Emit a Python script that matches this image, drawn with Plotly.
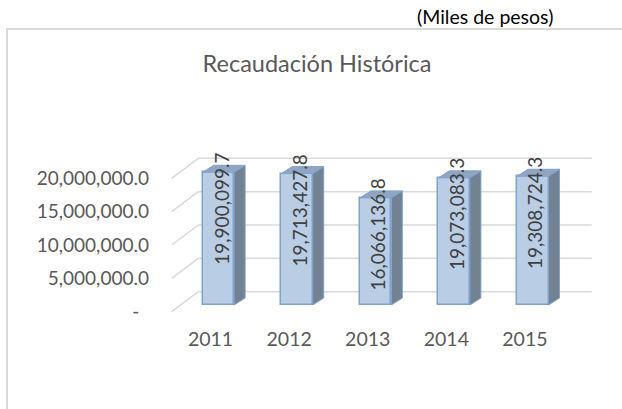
import plotly.graph_objects as go

# ---- data ----
YEARS = ["2011", "2012", "2013", "2014", "2015"]
VALUES = [19900099.7, 19713427.8, 16066136.8, 19073083.3, 19308724.3]
Y_TICK_VALUES = [0, 5000000, 10000000, 15000000, 20000000]
Y_TICK_LABELS = ["-\u00a0\u00a0", "5,000,000.0", "10,000,000.0", "15,000,000.0", "20,000,000.0"]
TITLE = "Recaudación Histórica"
UNITS = "(Miles de pesos)"

# ---- pseudo-3D geometry (in axis units) ----
BAR_W = 0.40          # front face width (category units)
DEPTH_X = 0.14        # bar side depth, x
DEPTH_Y = 1.05e6      # bar side depth, y
FLOOR_FRONT_DY = -1.0e6   # front edge of floor grid
WALL_DY = 2.0e6           # back wall offset
FLOOR_FRONT_X = -0.594
WALL_X = -0.256
WALL_RIGHT_X = 4.75
YEAR_SHIFT = -0.10
LABEL_DY = -5.5e6

FONT = "Lato"
GREY = "#595959"
FRONT = "#b9cde5"
EDGE = "#7fa3cf"
SIDE = "#738292"
TOP = "#8fa5c0"
GRID = "#d9d9d9"

xs = list(range(len(YEARS)))

fig = go.Figure()

# floor / wall gridlines
shapes = []
for t in Y_TICK_VALUES:
    shapes.append(dict(type="line", xref="x", yref="y", layer="below",
                       x0=FLOOR_FRONT_X, y0=t + FLOOR_FRONT_DY, x1=WALL_X, y1=t + WALL_DY,
                       line=dict(color=GRID, width=1.5)))
    shapes.append(dict(type="line", xref="x", yref="y", layer="below",
                       x0=WALL_X, y0=t + WALL_DY, x1=WALL_RIGHT_X, y1=t + WALL_DY,
                       line=dict(color=GRID, width=1.5)))

# chart border (extends beyond the picture on right and bottom)
L, R, T, B = 150, 22, 130, 89
W, H = 622, 409
PW, PH = W - L - R, H - T - B
def px(p):
    return (p - L) / PW
def py(p):
    return (H - B - p) / PH
shapes.append(dict(type="path", xref="paper", yref="paper", layer="below",
                   path=f"M {px(7)} {py(430)} L {px(7)} {py(29)} L {px(650)} {py(29)}",
                   line=dict(color=GRID, width=2)))

# front faces
fig.add_trace(go.Bar(x=xs, y=VALUES, width=BAR_W, marker=dict(color=FRONT, line=dict(color=EDGE, width=1.5)),
                     hoverinfo="skip", showlegend=False))

# side faces and top faces
sx, sy, tx, ty = [], [], [], []
for i, v in zip(xs, VALUES):
    r = i + BAR_W / 2
    l = i - BAR_W / 2
    sx += [r, r + DEPTH_X, r + DEPTH_X, r, r, None]
    sy += [0, DEPTH_Y, v + DEPTH_Y, v, 0, None]
    tx += [l, l + DEPTH_X, r + DEPTH_X, r, l, None]
    ty += [v, v + DEPTH_Y, v + DEPTH_Y, v, v, None]
fig.add_trace(go.Scatter(x=sx, y=sy, mode="lines", fill="toself", fillcolor=SIDE,
                         line=dict(color=EDGE, width=1), hoverinfo="skip", showlegend=False))
fig.add_trace(go.Scatter(x=tx, y=ty, mode="lines", fill="toself", fillcolor=TOP,
                         line=dict(color=EDGE, width=1), hoverinfo="skip", showlegend=False))

annotations = []
for i, v in zip(xs, VALUES):
    annotations.append(dict(x=i + 0.03, y=v + LABEL_DY, xref="x", yref="y", text=f"{v:,.1f}",
                            textangle=-90, showarrow=False, xanchor="center", yanchor="middle",
                            font=dict(family=FONT, size=19, color="#404040")))
annotations.append(dict(x=px(485), y=py(17), xref="paper", yref="paper", text=UNITS,
                        showarrow=False, xanchor="center", yanchor="middle",
                        font=dict(family=FONT, size=19.5, color="#000000")))

x_lo = (L - 218.4) / 78.6
x_hi = (W - R - 218.4) / 78.6
fig.update_layout(
    width=W, height=H,
    margin=dict(l=L, r=R, t=T, b=B),
    paper_bgcolor="white", plot_bgcolor="white",
    title=dict(text=TITLE, x=317 / W, xanchor="center", y=1 - 64 / H, yanchor="middle",
               font=dict(family=FONT, size=23.5, color=GREY)),
    xaxis=dict(range=[x_lo, x_hi], tickvals=[i + YEAR_SHIFT for i in xs], ticktext=YEARS,
               showgrid=False, zeroline=False, showline=False, ticks="",
               tickfont=dict(family=FONT, size=19.5, color=GREY), ticklabelstandoff=5),
    yaxis=dict(range=[-2.25e6, 26.25e6], tickvals=[t + FLOOR_FRONT_DY for t in Y_TICK_VALUES],
               ticktext=Y_TICK_LABELS, showgrid=False, zeroline=False, showline=False, ticks="",
               tickfont=dict(family=FONT, size=19, color=GREY)),
    shapes=shapes, annotations=annotations, showlegend=False, bargap=0,
)

fig.write_html("out.html", config={"displayModeBar": False},
               post_script="document.body.style.margin='0';")
